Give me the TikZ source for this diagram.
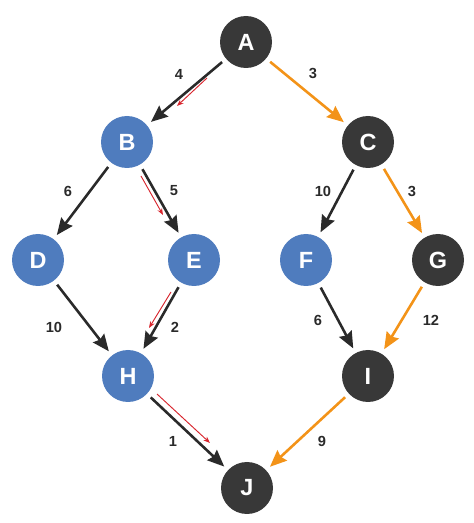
\documentclass[tikz,border=0pt]{standalone}
\usepackage{fontspec}
\setmainfont{Liberation Sans}
\usetikzlibrary{arrows.meta}
\definecolor{nodedark}{HTML}{383838}
\definecolor{nodeblue}{HTML}{4F7CBE}
\definecolor{linkdark}{HTML}{2A2A2A}
\definecolor{bestorange}{HTML}{F39318}
\definecolor{tracered}{HTML}{D8262E}
\begin{document}
\begin{tikzpicture}[
    vtx/.style={circle, minimum size=1.56cm, inner sep=0pt, outer sep=4.5pt, text=white,
      font=\fontsize{20}{24}\selectfont\bfseries},
    pathnode/.style={vtx, fill=nodedark},
    visited/.style={vtx, fill=nodeblue},
    link/.style={line width=2.2pt, draw=linkdark, -{Stealth[length=0.5cm, width=0.42cm, inset=0.06cm]}},
    best/.style={link, draw=bestorange},
    trace/.style={line width=0.8pt, draw=tracered, -{Stealth[length=0.2cm, width=0.15cm]}},
    wt/.style={font=\fontsize{12.5}{14}\selectfont\bfseries, text=linkdark, inner sep=1pt}]
    \useasboundingbox (0, 0) rectangle (14.22, 15.69);
    % Vertices
    \node[pathnode] (A) at (7.38, 14.43) {A};
    \node[visited]  (B) at (3.81, 11.43) {B};
    \node[pathnode] (C) at (11.04, 11.43) {C};
    \node[visited]  (D) at (1.14, 7.89) {D};
    \node[visited]  (E) at (5.82, 7.89) {E};
    \node[visited]  (F) at (9.18, 7.89) {F};
    \node[pathnode] (G) at (13.14, 7.89) {G};
    \node[visited]  (H) at (3.84, 4.41) {H};
    \node[pathnode] (I) at (11.04, 4.41) {I};
    \node[pathnode] (J) at (7.41, 1.05) {J};

    % Edges
    \draw[link] (A) -- (B);
    \draw[best] (A) -- (C);
    \draw[link] (B) -- (D);
    \draw[link] (B) -- (E);
    \draw[link] (C) -- (F);
    \draw[best] (C) -- (G);
    \draw[link] (D) -- (H);
    \draw[link] (E) -- (H);
    \draw[link] (F) -- (I);
    \draw[best] (G) -- (I);
    \draw[link] (H) -- (J);
    \draw[best] (I) -- (J);

    % Weights
    \node[wt] (wAB) at (5.37, 13.47) {4};
    \node[wt] (wAC) at (9.39, 13.50) {3};
    \node[wt] (wBD) at (2.04, 9.96) {6};
    \node[wt] (wBE) at (5.22, 9.96) {5};
    \node[wt] (wCF) at (9.69, 9.96) {10};
    \node[wt] (wCG) at (12.36, 9.96) {3};
    \node[wt] (wDH) at (1.62, 5.88) {10};
    \node[wt] (wEH) at (5.25, 5.88) {2};
    \node[wt] (wFI) at (9.54, 6.09) {6};
    \node[wt] (wGI) at (12.93, 6.09) {12};
    \node[wt] (wHJ) at (5.19, 2.46) {1};
    \node[wt] (wIJ) at (9.66, 2.46) {9};

    % Backtracking arrows
    \coordinate (rAB1) at (6.21, 13.35);
    \coordinate (rAB2) at (5.31, 12.51);
    \coordinate (rBE1) at (4.23, 10.41);
    \coordinate (rBE2) at (4.89, 9.24);
    \coordinate (rEH1) at (5.13, 6.93);
    \coordinate (rEH2) at (4.47, 5.85);
    \coordinate (rHJ1) at (4.71, 3.87);
    \coordinate (rHJ2) at (6.30, 2.40);
    \draw[trace] (rAB1) -- (rAB2);
    \draw[trace] (rBE1) -- (rBE2);
    \draw[trace] (rEH1) -- (rEH2);
    \draw[trace] (rHJ1) -- (rHJ2);
\end{tikzpicture}
\end{document}
